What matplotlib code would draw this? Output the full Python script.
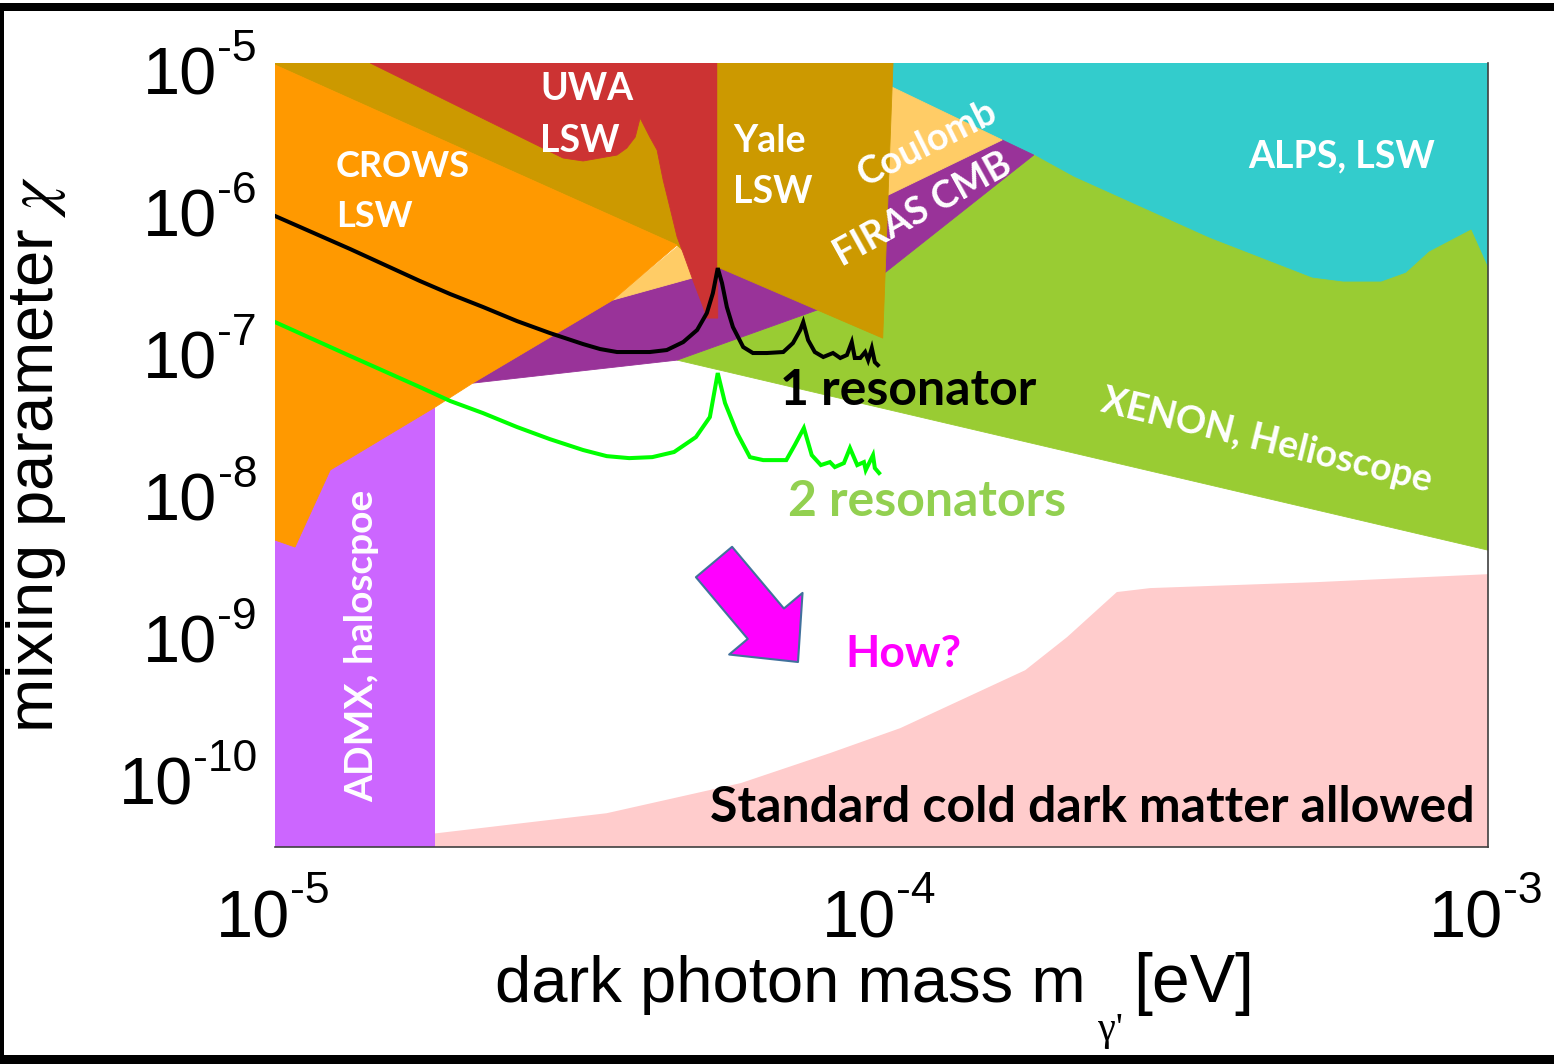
import matplotlib
matplotlib.use("Agg")
import matplotlib.pyplot as plt
import numpy as np
from matplotlib.patches import Rectangle

plt.rcParams['mathtext.fontset'] = 'stix'

W, H = 1554, 1064
PT = 72.0 / 100.0  # points per pixel at dpi=100

# ---------------- data : log10(mass / eV) and log10(chi) ----------------
mass_range_log = (-5.0, -3.0)
chi_range_log = (-10.52, -5.0)
xtick_exps = [-5, -4, -3]
ytick_exps = [-5, -6, -7, -8, -9, -10]

# Standard cold dark matter allowed (upper edge)
cdm_logm = [-4.901, -4.733, -4.453, -4.232, -4.085, -3.969, -3.763, -3.694, -3.612, -3.557, -3.282, -3.000]
cdm_logchi = [-10.507, -10.423, -10.282, -10.070, -9.859, -9.683, -9.275, -9.042, -8.725, -8.697, -8.655, -8.599]

# ADMX haloscope band
admx_logm = [-5.0, -4.736]
admx_logchi = [-10.6, -7.40]

# ALPS LSW (upper right)
alps_logm = [-4.062, -3.0, -3.0, -3.969, -4.062]
alps_logchi = [-5.0, -5.0, -6.669, -6.669, -5.613]

# XENON / helioscope
xenon_logm = [-4.337, -4.106, -3.993, -3.749, -3.683, -3.460, -3.290, -3.239, -3.176, -3.135,
              -3.097, -3.028, -3.000, -3.000]
xenon_logchi = [-7.092, -6.739, -6.472, -5.648, -5.803, -6.232, -6.514, -6.542, -6.542, -6.479,
                -6.331, -6.176, -6.444, -8.430]

# FIRAS CMB
firas_logm = [-4.674, -4.443, -4.312, -3.989, -3.801, -3.749, -3.993, -4.106, -4.337]
firas_logchi = [-7.254, -6.669, -6.514, -5.930, -5.542, -5.648, -6.472, -6.739, -7.092]

# Coulomb
coul_logm = [-4.443, -4.312, -3.989, -3.801, -3.983, -4.062, -4.299, -4.337]
coul_logchi = [-6.669, -6.514, -5.930, -5.542, -5.169, -5.0, -5.0, -6.296]

# LSW band (upper left)
band_logm = [-5.0, -4.291, -4.307, -4.337, -5.0]
band_logchi = [-5.0, -5.0, -6.401, -6.282, -5.014]

# CROWS LSW
crows_logm = [-5.0, -4.337, -4.443, -4.674, -4.736, -4.909, -4.967, -5.0]
crows_logchi = [-5.014, -6.282, -6.669, -7.254, -7.423, -7.866, -8.408, -8.359]

# UWA LSW
uwa_logm = [-4.843, -4.270, -4.270, -4.288, -4.294, -4.311, -4.327, -4.337, -4.349, -4.360,
            -4.370, -4.382, -4.398, -4.406, -4.420, -4.436, -4.464, -4.492, -4.525]
uwa_logchi = [-5.0, -5.0, -6.796, -6.796, -6.718, -6.528, -6.338, -6.225, -6.014, -5.824,
              -5.613, -5.521, -5.387, -5.521, -5.599, -5.648, -5.669, -5.690, -5.669]

# Yale LSW
yale_logm = [-4.270, -3.981, -3.998, -4.270]
yale_logchi = [-5.0, -5.0, -6.937, -6.437]

# sensitivity curves
res1_logm = [-5.000, -4.876, -4.761, -4.711, -4.657, -4.601, -4.547, -4.492, -4.464, -4.436,
             -4.382, -4.354, -4.327, -4.304, -4.288, -4.278, -4.270, -4.263, -4.255, -4.245,
             -4.228, -4.212, -4.189, -4.162, -4.146, -4.134, -4.129, -4.121, -4.110, -4.096,
             -4.080, -4.068, -4.057, -4.049, -4.044, -4.035, -4.027, -4.022, -4.016, -4.011,
             -4.006]
res1_logchi = [-6.077, -6.310, -6.535, -6.627, -6.718, -6.817, -6.901, -6.979, -7.014, -7.035,
               -7.035, -7.021, -6.965, -6.880, -6.761, -6.620, -6.444, -6.549, -6.718, -6.859,
               -7.000, -7.042, -7.042, -7.035, -6.972, -6.880, -6.824, -6.951, -7.035, -7.070,
               -7.042, -7.077, -7.056, -6.965, -7.077, -7.077, -7.035, -7.092, -7.007, -7.106,
               -7.127]

res2_logm = [-5.000, -4.876, -4.761, -4.711, -4.657, -4.601, -4.547, -4.492, -4.453, -4.416,
             -4.378, -4.342, -4.306, -4.283, -4.270, -4.258, -4.238, -4.217, -4.195, -4.157,
             -4.143, -4.128, -4.115, -4.100, -4.085, -4.077, -4.062, -4.052, -4.040, -4.029,
             -4.026, -4.014, -4.011, -4.004]
res2_logchi = [-6.824, -7.063, -7.282, -7.380, -7.465, -7.563, -7.648, -7.725, -7.768, -7.782,
               -7.775, -7.739, -7.634, -7.493, -7.183, -7.394, -7.606, -7.775, -7.796, -7.796,
               -7.690, -7.570, -7.761, -7.831, -7.810, -7.845, -7.817, -7.711, -7.831, -7.810,
               -7.866, -7.761, -7.852, -7.887]

# ---------------- figure ----------------
fig = plt.figure(figsize=(W / 100, H / 100), dpi=100)
fig.patch.set_facecolor('white')
ax = fig.add_axes([275 / W, 1 - 847 / H, 1213 / W, 784 / H])
ax.set_xscale('log')
ax.set_yscale('log')
ax.set_xlim(10 ** mass_range_log[0], 10 ** mass_range_log[1])
ax.set_ylim(10 ** chi_range_log[0], 10 ** chi_range_log[1])


def region(lm, lc, color, z):
    ax.fill(10 ** np.asarray(lm), 10 ** np.asarray(lc), facecolor=color, edgecolor=color,
            linewidth=0.6, zorder=z)


ax.fill_between(10 ** np.asarray(cdm_logm), 10 ** np.asarray(cdm_logchi), 1e-12,
                facecolor='#FFCCCC', edgecolor='none', zorder=1)
ax.fill_between(10 ** np.asarray(admx_logm), 10 ** admx_logchi[0], 10 ** admx_logchi[1],
                facecolor='#CC66FF', edgecolor='none', zorder=2)
region(alps_logm, alps_logchi, '#33CCCC', 3)
region(xenon_logm, xenon_logchi, '#99CC33', 4)
region(firas_logm, firas_logchi, '#993399', 5)
region(coul_logm, coul_logchi, '#FFCC66', 6)
region(band_logm, band_logchi, '#CC9900', 7)
region(crows_logm, crows_logchi, '#FF9900', 8)
region(uwa_logm, uwa_logchi, '#CC3333', 9)
region(yale_logm, yale_logchi, '#CC9900', 10)

ax.plot(10 ** np.asarray(res1_logm), 10 ** np.asarray(res1_logchi), color='black', lw=2.9,
        zorder=11, solid_joinstyle='miter')
ax.plot(10 ** np.asarray(res2_logm), 10 ** np.asarray(res2_logchi), color='#00FF00', lw=2.9,
        zorder=11, solid_joinstyle='miter')

for s in ['top', 'left']:
    ax.spines[s].set_visible(False)
for s in ['bottom', 'right']:
    ax.spines[s].set_color('#404040')
    ax.spines[s].set_linewidth(1.2)
    ax.spines[s].set_zorder(20)
ax.tick_params(which='both', length=0, labelleft=False, labelbottom=False)

# ---------------- tick labels ----------------
TF = dict(family='Liberation Sans', color='black', annotation_clip=False)
for k in ytick_exps:
    sup = ax.annotate(str(k), xy=(0, 10.0 ** k), xycoords=('axes fraction', 'data'),
                      xytext=(-18 * PT, 2 * PT), textcoords='offset points',
                      ha='right', va='baseline', fontsize=32, **TF)
    ax.annotate('10', xy=(0, 0), xycoords=sup, xytext=(0, -24.6 * PT),
                textcoords='offset points', ha='right', va='baseline', fontsize=48, **TF)
for k in xtick_exps:
    ax.annotate('10', xy=(10.0 ** k, 0), xycoords=('data', 'axes fraction'),
                xytext=(15 * PT, -90 * PT), textcoords='offset points',
                ha='right', va='baseline', fontsize=48, **TF)
    ax.annotate(str(k), xy=(10.0 ** k, 0), xycoords=('data', 'axes fraction'),
                xytext=(15 * PT, -56 * PT), textcoords='offset points',
                ha='left', va='baseline', fontsize=32, **TF)


def fx(x):
    return x / W


def fy(y):
    return 1 - y / H


# axis labels
AF = dict(family='Liberation Sans', color='black')
fig.text(fx(495), fy(1002), 'dark photon mass m', fontsize=47, ha='left', va='baseline', **AF)
fig.text(fx(1133), fy(1002), '[eV]', fontsize=49, ha='left', va='baseline', **AF)
fig.text(fx(1110), fy(1040), "\u03b3'", fontsize=29, ha='center', va='baseline',
         family='Liberation Serif', color='black')
fig.text(fx(36), fy(455), r'mixing parameter $\chi$', fontsize=47, rotation=90,
         ha='center', va='center', **AF)

# ---------------- region labels ----------------
LF = dict(family='Lato', weight='bold', va='baseline', rotation_mode='anchor', zorder=30)


def lab(x, y, s, size, color='white', ha='left', rot=0):
    fig.text(fx(x), fy(y), s, fontsize=size, color=color, ha=ha, rotation=rot, **LF)


lab(336, 177, 'CROWS', 26)
lab(336, 227, 'LSW', 26)
lab(540, 100, 'UWA', 27)
lab(540, 152, 'LSW', 27)
lab(733, 152, 'Yale', 27)
lab(733, 203, 'LSW', 27)
lab(1342, 167, 'ALPS, LSW', 27, ha='center')
lab(932, 153, 'Coulomb', 27, ha='center', rot=26.5)
lab(928, 219, 'FIRAS CMB', 27, ha='center', rot=29)
lab(1264, 452, 'XENON, Helioscope', 27, ha='center', rot=-13.8)
lab(373, 646, 'ADMX, haloscpoe', 28, ha='center', rot=90)
lab(908, 405, '1 resonator', 36, color='black', ha='center')
lab(927, 516, '2 resonators', 36, color='#92D050', ha='center')
lab(903, 667, 'How?', 32, color='#FF00FF', ha='center')
lab(1092, 822, 'Standard cold dark matter allowed', 36, color='black', ha='center')

# arrow
ax.annotate('', xy=((798 - 275) / 1213, (847 - 662) / 784),
            xytext=((714 - 275) / 1213, (847 - 562) / 784), xycoords='axes fraction',
            arrowprops=dict(arrowstyle='simple,head_length=0.36,head_width=0.69,tail_width=0.34',
                            mutation_scale=100, fc='#FF00FF', ec='#41719C', lw=1.5,
                            shrinkA=0, shrinkB=0), zorder=25)

# ---------------- outer frame ----------------
fig.add_artist(Rectangle((0, fy(11)), 1, 8 / H, transform=fig.transFigure,
                         facecolor='black', edgecolor='none'))
fig.add_artist(Rectangle((0, fy(1055)), 4 / W, (1055 - 11) / H, transform=fig.transFigure,
                         facecolor='black', edgecolor='none'))
fig.add_artist(Rectangle((0, 0), 1, 9 / H, transform=fig.transFigure,
                         facecolor='black', edgecolor='none'))

fig.savefig('out.png', dpi=100)
